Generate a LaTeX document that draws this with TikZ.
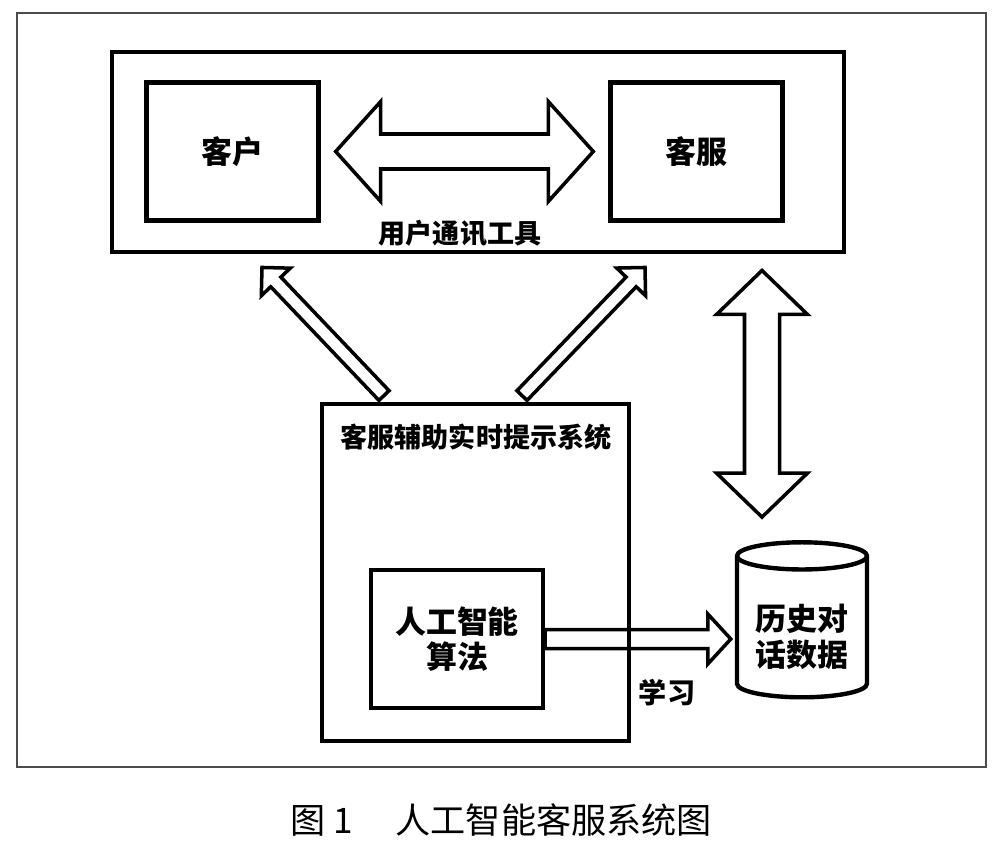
\documentclass[tikz,border=0pt]{standalone}
\usepackage{fontspec}
\setmainfont{Noto Sans CJK SC}
\usetikzlibrary{positioning,calc,shapes.geometric}

\tikzset{
	box/.style={draw, rectangle, line width=2.5pt, minimum width=3.44cm, minimum height=2.76cm, align=center, font=\bfseries\fontsize{17.6}{19.5}\selectfont},
	frame/.style={draw, rectangle, line width=2.8pt},
	tag/.style={font=\bfseries\fontsize{15.4}{18}\selectfont},
	hollow/.style={draw, line width=2pt, line join=miter}
}

% hollow arrow: from, to, head length, head half width, shaft half width
\newcommand{\hollowarrow}[5]{
	\coordinate (hb) at ($(#2)!#3!(#1)$);
	\draw[hollow] ($(#1)!#5!90:(#2)$) -- ($(hb)!#5!90:(#2)$) -- ($(hb)!#4!90:(#2)$) -- (#2)
		-- ($(hb)!#4!-90:(#2)$) -- ($(hb)!#5!-90:(#2)$) -- ($(#1)!#5!-90:(#2)$) -- cycle;
}
% hollow arrow with two heads
\newcommand{\hollowdouble}[5]{
	\coordinate (ha) at ($(#1)!#3!(#2)$);
	\coordinate (hb) at ($(#2)!#3!(#1)$);
	\draw[hollow] (#1) -- ($(ha)!#4!90:(#2)$) -- ($(ha)!#5!90:(#2)$) -- ($(hb)!#5!90:(#2)$) -- ($(hb)!#4!90:(#2)$) -- (#2)
		-- ($(hb)!#4!-90:(#2)$) -- ($(hb)!#5!-90:(#2)$) -- ($(ha)!#5!-90:(#2)$) -- ($(ha)!#4!-90:(#2)$) -- cycle;
}

\begin{document}
\begin{tikzpicture}
	\useasboundingbox (0,0) rectangle (20,-16.94);
	
	% Border
	\node[draw=black!70, line width=0.8pt, minimum width=19.38cm, minimum height=15.08cm] (border) at (10.03,-7.8) {};
	
	% Communication tool
	\node[frame, minimum width=14.64cm, minimum height=4cm] (tool) at (9.56,-3.04) {};
	\node[box] (kehu) at (4.65,-3.03) {客户};
	\node[box] (kefu) at (13.93,-3.03) {客服};
	\node[tag] (toollabel) at (9.2,-4.66) {用户通讯工具};
	
	% Assist system
	\node[frame, minimum width=6.14cm, minimum height=6.74cm] (assist) at (9.51,-11.45) {};
	\node[tag] (assisttitle) at (9.52,-8.74) {客服辅助实时提示系统};
	\node[box] (suanfa) at (9.14,-12.78) {人工智能\\算法};
	
	% History data
	\node[draw, cylinder, shape border rotate=90, aspect=0.26, line width=2.5pt, minimum width=2.6cm, minimum height=3.1cm, font=\bfseries\fontsize{17.6}{19.5}\selectfont] (lishi) at (16.04,-12.61) {\raisebox{-0.35cm}[0pt][0pt]{\begin{tabular}{@{}c@{}}历史对\\话数据\end{tabular}}};
	\node[font=\bfseries\fontsize{16}{18}\selectfont] (learnlabel) at (13.34,-13.86) {学习};
	
	% Caption
	\node[font=\fontsize{20}{24}\selectfont] (caption) at (10.02,-16.4) {图\ 1\quad\ 人工智能客服系统图};
	
	% Arrows
	\coordinate (l1) at ($(kehu.east)+(0.3,0)$);
	\coordinate (l2) at ($(kefu.west)-(0.3,0)$);
	\hollowdouble{l1}{l2}{0.9cm}{1cm}{0.35cm}
	
	\coordinate (a1) at ($(assist.north)+(-1.83,0.12)$);
	\coordinate (b1) at ($(tool.south)+(-4.32,-0.26)$);
	\hollowarrow{a1}{b1}{0.4cm}{0.4cm}{0.14cm}
	\coordinate (a2) at ($(assist.north)+(0.93,0.12)$);
	\coordinate (b2) at ($(tool.south)+(3.34,-0.26)$);
	\hollowarrow{a2}{b2}{0.4cm}{0.4cm}{0.14cm}
	
	\coordinate (c1) at ($(tool.south)+(5.68,-0.32)$);
	\coordinate (c2) at ($(lishi.north)+(-0.8,0.46)$);
	\hollowdouble{c1}{c2}{0.88cm}{0.91cm}{0.35cm}
	
	\coordinate (d2) at ($(suanfa.east -| lishi.west)+(-0.08,0)$);
	\hollowarrow{suanfa.east}{d2}{0.46cm}{0.5cm}{0.19cm}
\end{tikzpicture}
\end{document}
